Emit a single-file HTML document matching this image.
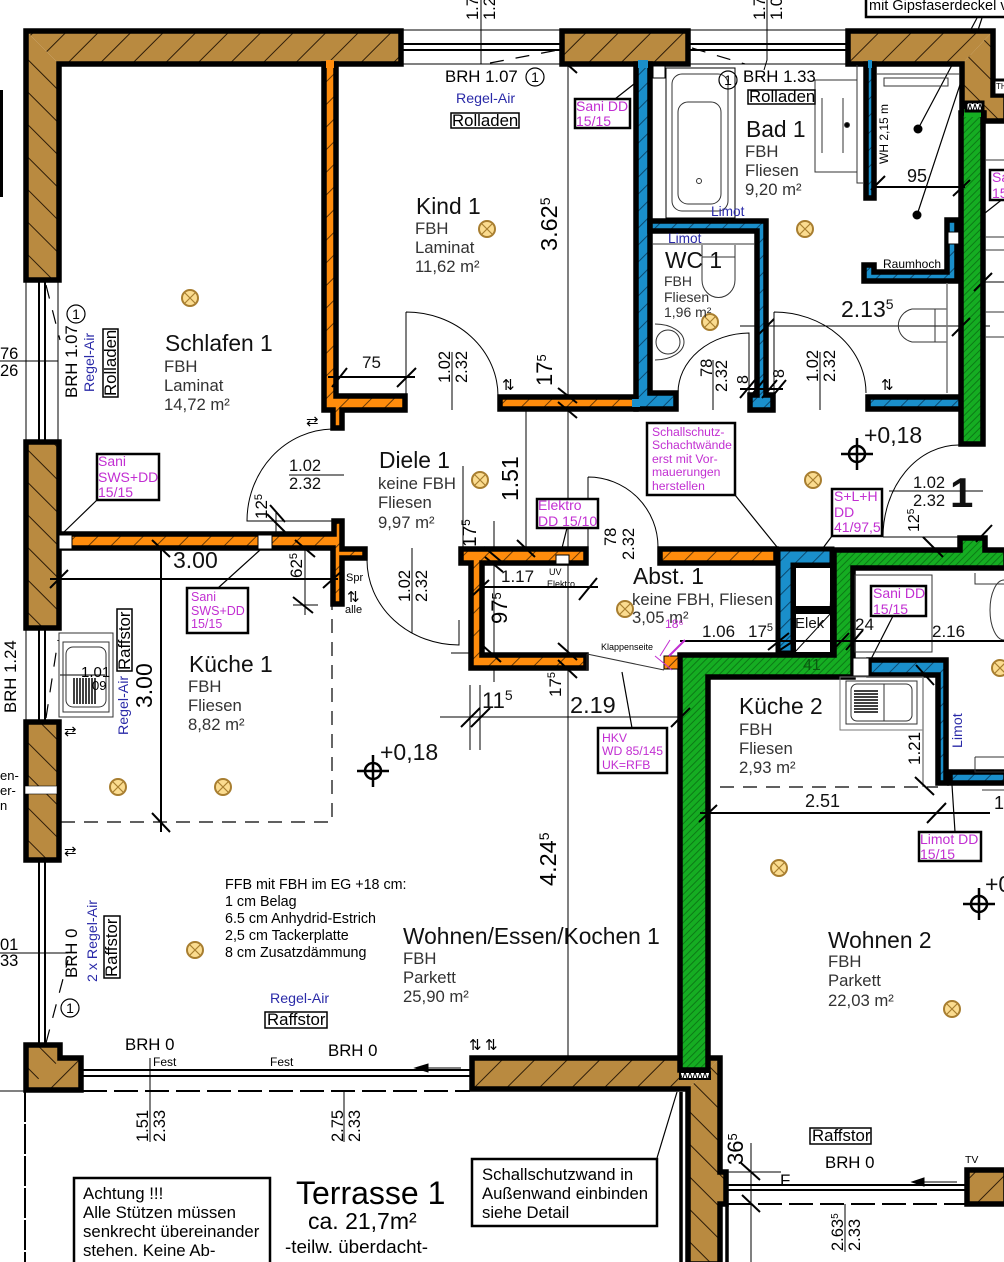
<!DOCTYPE html>
<html><head><meta charset="utf-8"><style>
html,body{margin:0;padding:0;background:#fff}
svg{display:block}
text{font-family:"Liberation Sans",sans-serif;fill:#000}
.n{font-size:22.8px;fill:#111}
.s{font-size:16.7px;fill:#333}
.s2{font-size:14px;fill:#333}
.d{font-size:16.5px;fill:#111}
.b{font-size:23px;fill:#111}
.m{font-size:14px;fill:#c22fd2}
.m2{font-size:12.5px;fill:#c22fd2}
.m3{font-size:12.2px;fill:#c22fd2}
.a{font-size:14.2px;fill:#2a2aa8}
.w{fill:#fff;stroke:#000;stroke-width:1.5}
.x{fill:#fff;stroke:#000;stroke-width:2.5}
.wl{stroke:#000;stroke-width:5.5;stroke-linejoin:miter}
.t{font-size:16.8px}
</style></head><body>
<svg width="1004" height="1262" viewBox="0 0 1004 1262" xmlns="http://www.w3.org/2000/svg">
<defs>
<pattern id="b1" width="23" height="23" patternUnits="userSpaceOnUse" patternTransform="rotate(45)"><rect width="23" height="23" fill="#b98a40"/><rect width="1" height="23" fill="#2d1c08"/></pattern>
<pattern id="b2" width="23" height="23" patternUnits="userSpaceOnUse" patternTransform="rotate(-45)"><rect width="23" height="23" fill="#b98a40"/><rect width="1" height="23" fill="#2d1c08"/></pattern>
<pattern id="o" width="16" height="16" patternUnits="userSpaceOnUse" patternTransform="rotate(45)"><rect width="16" height="16" fill="#ff8c0c"/><rect width="1" height="16" fill="#6a3a05"/></pattern>
<pattern id="bl" width="12" height="12" patternUnits="userSpaceOnUse" patternTransform="rotate(45)"><rect width="12" height="12" fill="#1a8fcb"/><rect width="1" height="12" fill="#0c4a70"/></pattern>
<pattern id="g" width="5" height="5" patternUnits="userSpaceOnUse" patternTransform="rotate(45)"><rect width="5" height="5" fill="#15ad22"/><rect width="1" height="5" fill="#0c7a16"/></pattern>
<pattern id="z" width="5" height="8" patternUnits="userSpaceOnUse"><rect width="5" height="8" fill="#fff"/><path d="M0 0L2.5 8L5 0" fill="none" stroke="#000" stroke-width="1"/></pattern>
<g id="l"><circle r="8" fill="#fbdc90" stroke="#a87e30" stroke-width="2"/><path d="M-5.5 -5.5L5.5 5.5M-5.5 5.5L5.5 -5.5" stroke="#a87e30" stroke-width="1.2"/></g>
<g id="c"><circle r="8" fill="none" stroke="#000" stroke-width="2.5"/><path d="M-16 0H16M0 -16V16" stroke="#000" stroke-width="2.5"/></g>
<g id="o1"><circle r="9" fill="none" stroke="#000" stroke-width="1.2"/><text text-anchor="middle" y="5" font-size="14">1</text></g>
</defs>
<rect width="1004" height="1262" fill="#fff"/>

<!-- thin lines -->
<g fill="none" stroke="#000" stroke-width="1">
<path d="M402 30H560M402 64H560M690 30H846M690 64H846"/>
<path d="M26 282V440M58 282V440M26 630V722"/>
<path d="M568 64V1056M481 0V64M767 0V60L764 70"/>
<path d="M0 361H58M0 953H68"/>
<path d="M406 312V396M406 312A92 84 0 0 1 498 396"/>
<path d="M332 429A87 92 0 0 0 247 521H332"/>
<path d="M367 560A92 85 0 0 0 459 645V620"/>
<path d="M678 393A72 60 0 0 1 749 333V393"/>
<path d="M774 312A92 81 0 0 1 866 393M774 312V393"/>
<path d="M588 477A70 70 0 0 1 658 547M588 477V547"/>
<path d="M883 537A76 92 0 0 1 959 445"/>
<path d="M883 537H960"/>
<path d="M452 352V410M412 548V633M713 360V410M820 352V410M289 475H344M889 491H983"/>
<path d="M526 410V547M150 1058V1142M344 1092V1142M845 1204V1252M751 1143V1262M727 1172H781"/>
<path d="M293 605H318M305 540V615M276 512V542"/>
<path d="M470 685V750M480 685V750M440 717H690M463 466V550M494 521V682"/>
<path d="M0 1091H24M451 653H470"/>
<path d="M740 326H990M958 282H1004M60 675H105"/>
</g>
<path d="M0 90H3V197H0Z" fill="#000"/>
<!-- windows -->
<g fill="none" stroke="#000" stroke-width="2">
<path d="M403 44H560M403 50H560M690 44H846M690 50H846"/>
<path d="M39 282V440M45 282V440M39 630V722M45 630V722M39 862V1043M45 862V1043"/>
<path d="M83 1070H470M83 1076H470M727 1185H965M727 1190H965"/>
<path d="M83 1091H470M727 1204H965" stroke-dasharray="24 7"/>
<path d="M25 1092V1262" stroke-width="2" stroke-dasharray="30 2"/>
</g>
<g fill="none" stroke="#000" stroke-width="1.2" stroke-dasharray="14 12">
<path d="M46 285L60 340M46 718L58 640M46 1043L68 960M490 63L558 50M692 48L745 64"/>
</g>
<!-- leaders -->
<g stroke="#000" stroke-width="1.2" fill="none">
<path d="M97 500L64 532M218 588L260 550M567 528L562 548M735 495L777 547M832 536L820 552M622 672L632 728M893 616L868 665M952 785L955 832M615 99L634 84M985 213L1004 198M657 1158L677 1092M918 129L977 18M917 215L982 18M968 107L1004 90"/>
</g>

<!-- brown walls: fills -->
<path fill="url(#b1)" d="M26 31H401V64H59Z"/><path fill="url(#b2)" d="M26 31L59 64V280H26Z"/>
<path fill="url(#b1)" d="M562 31H688V64H562Z"/>
<path fill="url(#b2)" d="M26 442H59V628H26Z"/>
<path fill="url(#b2)" d="M26 722H59V860H26Z"/>
<path fill="url(#b2)" d="M26 1045H60V1066L26 1090Z"/><path fill="url(#b1)" d="M26 1090L60 1060L60 1058H81V1090Z"/>
<path fill="url(#b1)" d="M472 1058H720L688 1089H472Z"/><path fill="url(#b2)" d="M720 1058V1172H726V1204H720V1262H688V1089Z"/>
<path fill="url(#b1)" d="M967 1170H1006V1204H967Z"/>
<path fill="url(#b1)" d="M848 31H993L962 64H848Z"/><path fill="url(#b2)" d="M993 31V95H1006V121H984V113H962V64Z"/>
<!-- brown walls: outlines -->
<g class="wl" fill="none">
<path d="M26 31H401V64H59V280H26Z"/>
<path d="M562 31H688V64H562Z"/>
<path d="M26 442H59V628H26Z"/>
<path d="M26 722H59V860H26Z"/>
<path d="M26 1045H60V1058H81V1090H26Z"/>
<path d="M472 1058H720V1172H726V1204H720V1264H688V1089H472Z"/>
<path d="M967 1170H1006V1204H967Z"/>
<path d="M848 31H993V95H1006V121H984V113H962V64H848Z"/>
</g>
<rect x="25" y="786" width="32" height="8" fill="#fff" stroke="#000" stroke-width="0.6"/>
<rect x="994" y="80" width="12" height="15" fill="#fff" stroke="#000" stroke-width="3"/><text x="996" y="89" font-size="8">TH</text>
<!-- orange walls -->
<g class="wl" fill="url(#o)">
<path d="M324 64H336V396H405V410H342V428H333V410H324Z"/>
<path d="M500 397H636V409H500Z"/>
<path d="M60 534H334V521H342V549H365V558H342V604H333V548H60Z"/>
<path d="M461 549H586V563H482V655H586V668H471V563H461Z"/>
<path d="M660 549H776V563H660Z"/>
</g>
<rect x="59" y="535" width="13" height="14" fill="#fff" stroke="#000"/>
<rect x="258" y="535" width="14" height="14" fill="#fff" stroke="#000"/>
<rect x="556" y="555" width="13" height="9" fill="#fff" stroke="#000"/>
<!-- blue walls -->
<g class="wl" fill="url(#bl)">
<path d="M636 64H650V393H676V409H636Z"/>
<path d="M650 221H766V395H773V410H750V395H757V231H650Z"/>
<path d="M866 64H874V198H866Z"/>
<path d="M864 265H874V272H947V220H957V281H864Z"/>
<path d="M868 397H962V409H868Z"/>
<path d="M869 660H946V783H938V675H869Z"/>
<path d="M950 772H1006V783H950Z"/>
</g>
<rect x="653" y="66" width="12" height="12" fill="#fff" stroke="#000"/>
<rect x="948" y="232" width="11" height="12" fill="#fff" stroke="#000"/>
<!-- green walls -->
<g class="wl" fill="url(#g)">
<path d="M961 113H983V444H961Z"/>
<path d="M680 655H834V550H960V538H985V550H1006V568H853V677H708V1070H680Z"/>
</g>
<path d="M778 549H832V565H793V653H778Z" fill="url(#bl)" stroke="#000" stroke-width="5"/>
<rect x="794" y="566" width="38" height="42" fill="#fff" stroke="#000" stroke-width="4"/>
<rect x="794" y="612" width="38" height="42" fill="#fff" stroke="#000" stroke-width="4"/>
<path d="M795 652L832 612M832 566L830 612" stroke="#000" fill="none"/>
<rect x="664" y="656" width="14" height="13" fill="url(#o)" stroke="#000" stroke-width="1"/>
<!-- seam removal -->
<rect x="326" y="60" width="8" height="8" fill="#ff8c0c"/>
<rect x="638" y="60" width="10" height="8" fill="#1a8fcb"/>
<rect x="868" y="60" width="4" height="8" fill="#1a8fcb"/>
<rect x="632" y="399" width="8" height="8" fill="#1a8fcb"/>
<rect x="964" y="109" width="17" height="8" fill="#15ad22"/>
<rect x="680" y="1072" width="30" height="7" fill="url(#z)" stroke="#000" stroke-width="2"/>
<rect x="966" y="102" width="17" height="9" fill="url(#z)" stroke="#000" stroke-width="3"/>
<path d="M853 658H869V676H853Z" fill="#fff" stroke="#000"/>
<!-- extra black lines -->
<path d="M681 1092V1262M727 1204V1262" stroke="#000" stroke-width="3.5" fill="none"/>

<!-- fixtures -->
<g fill="none" stroke="#333" stroke-width="1">
<rect x="666" y="68" width="69" height="150" stroke="#000"/>
<rect x="672" y="74" width="56" height="137" rx="10"/>
<rect x="678" y="102" width="43" height="102" rx="10"/>
<circle cx="699" cy="181" r="2.5"/>
<path d="M815 80H857V172H815ZM857 65V183H863M822 98V153M843 98V153"/>
<circle cx="847" cy="125" r="2.5" fill="#000"/>
<rect x="884" y="78" width="64" height="8"/>
<path d="M876 74H960M652 244H755"/>
<path d="M702 245V280A16 17 0 0 0 735 280V245M702 257H735"/>
<path d="M655 324A29 18 0 0 1 655 360"/>
<circle cx="668" cy="342" r="12"/>
<path d="M947 309H912A18 17 0 0 0 912 342H947ZM935 309V342"/>
<path d="M947 283V393" stroke="#777" stroke-width="1.5"/>
<path d="M985 237H1004M985 250H1004M985 312H1004M985 337H1004M985 160H1004"/>
<rect x="59" y="633" width="54" height="84"/>
<rect x="63" y="642" width="46" height="70"/>
<rect x="66" y="647" width="40" height="60" rx="7"/>
<path d="M74 678V704M77 678V704M80 678V704M83 678V704M86 678V704M89 678V704M92 678V704M95 678V704" stroke="#000" stroke-width="1.5"/>
<rect x="840" y="677" width="83" height="53" stroke="#777"/>
<rect x="846" y="681" width="71" height="43"/>
<rect x="851" y="684" width="61" height="37" rx="6"/>
<path d="M854 691H878M854 694H878M854 697H878M854 700H878M854 703H878M854 706H878M854 709H878M854 712H878" stroke="#000" stroke-width="1.5"/>
<path d="M884 684V721"/>
<rect x="855" y="575" width="77" height="77"/>
<path d="M923 677V787" stroke="#888" stroke-width="1.5"/>
<path d="M975 757V772H1004M975 757H1004M982 790H1004"/>
<path d="M1004 580A14 30 0 0 0 1004 640M975 573V584H1004"/>
<path d="M587 654L664 670M587 654V670"/>
</g>
<circle cx="918" cy="129" r="4.5" fill="#000"/><circle cx="917" cy="215" r="4.5" fill="#000"/>
<text x="81" y="677" font-size="15" fill="#333">1.01</text><text x="92" y="690" font-size="13" fill="#333">09</text>

<!-- dimensions -->
<g fill="none" stroke="#000" stroke-width="2">
<path d="M328 377H415M50 579H338M161 548V832M482 587H598M680 641H1004M700 813H990M876 187H965M740 389H783"/>
<path d="M61 822H332V606" stroke-width="1.2" stroke-dasharray="14 9"/>
<path d="M720 787H938" stroke-width="1.2" stroke-dasharray="14 9"/>
<!-- ticks -->
<path d="M332 387L347 368M397 387L416 368M50 588L68 570M323 588L343 570M152 540L170 557M152 813L170 832M293 597L313 613M295 540L315 557M267 514L285 532M270 505L285 522"/>
<path d="M517 540L535 557M484 547L503 563M485 557L503 572M471 597L489 580M579 600L597 578M482 645L501 662M558 643L577 660M558 660L577 678M461 727L480 708M471 727L490 708M671 727L690 708"/>
<path d="M558 388L577 403M558 402L577 418M568 65L577 73"/>
<path d="M756 337L774 319M952 336L970 318M871 190L885 176M953 196L970 180M974 291L992 273"/>
<path d="M740 398L755 380M749 398L764 380M762 398L777 380M771 398L786 380"/>
<path d="M768 650L789 633M780 650L795 640M833 650L849 633M846 650L863 630M916 665L934 685M915 777L934 795M927 823L946 803M699 822L717 805M923 537L943 557M976 542L992 525"/>
<path d="M741 1163L760 1180M742 1195L760 1212"/>
<path d="M669 656L685 640" stroke="#c22fd2"/>
<path d="M660 656L670 640M655 656L672 670" stroke="#c22fd2" stroke-width="1"/>
</g>
<!-- window arrows -->
<g fill="#000" stroke="#000" stroke-width="1">
<path d="M415 1068H461" fill="none"/><path d="M415 1068L428 1064V1072Z"/>
<path d="M912 1182H957" fill="none"/><path d="M912 1182L924 1178V1186Z"/>
</g>

<!-- bulbs -->
<use href="#l" x="190" y="298"/><use href="#l" x="487" y="229"/><use href="#l" x="805" y="229"/><use href="#l" x="710" y="322"/><use href="#l" x="480" y="480"/><use href="#l" x="813" y="480"/><use href="#l" x="625" y="609"/><use href="#l" x="118" y="787"/><use href="#l" x="223" y="787"/><use href="#l" x="195" y="950"/><use href="#l" x="779" y="868"/><use href="#l" x="952" y="1009"/><use href="#l" x="1000" y="668"/>
<use href="#c" x="373" y="771"/><use href="#c" x="857" y="454"/><use href="#c" x="979" y="904"/>
<use href="#o1" x="535" y="77"/><use href="#o1" x="728" y="80"/><use href="#o1" x="76" y="314"/><use href="#o1" x="70" y="1008"/>

<!-- rooms -->
<text class="n" x="165" y="351">Schlafen 1</text><text class="s" x="164" y="372">FBH</text><text class="s" x="164" y="391">Laminat</text><text class="s" x="164" y="410">14,72 m²</text>
<text class="n" x="416" y="214">Kind 1</text><text class="s" x="415" y="234">FBH</text><text class="s" x="415" y="253">Laminat</text><text class="s" x="415" y="272">11,62 m²</text>
<text class="n" x="746" y="137">Bad 1</text><text class="s" x="745" y="157">FBH</text><text class="s" x="745" y="176">Fliesen</text><text class="s" x="745" y="195">9,20 m²</text>
<text class="n" x="665" y="268">WC 1</text><text class="s2" x="664" y="286">FBH</text><text class="s2" x="664" y="302">Fliesen</text><text class="s2" x="664" y="317">1,96 m²</text>
<text class="n" x="379" y="468">Diele 1</text><text class="s" x="378" y="489">keine FBH</text><text class="s" x="378" y="508">Fliesen</text><text class="s" x="378" y="528">9,97 m²</text>
<text class="n" x="189" y="672">Küche 1</text><text class="s" x="188" y="692">FBH</text><text class="s" x="188" y="711">Fliesen</text><text class="s" x="188" y="730">8,82 m²</text>
<text class="n" x="633" y="584">Abst. 1</text><text class="s" x="632" y="605">keine FBH, Fliesen</text><text class="s" x="632" y="623">3,05 m²</text>
<text class="n" x="739" y="714">Küche 2</text><text class="s" x="739" y="735">FBH</text><text class="s" x="739" y="754">Fliesen</text><text class="s" x="739" y="773">2,93 m²</text>
<text class="n" x="403" y="944">Wohnen/Essen/Kochen 1</text><text class="s" x="403" y="964">FBH</text><text class="s" x="403" y="983">Parkett</text><text class="s" x="403" y="1002">25,90 m²</text>
<text class="n" x="828" y="948">Wohnen 2</text><text class="s" x="828" y="967">FBH</text><text class="s" x="828" y="986">Parkett</text><text class="s" x="828" y="1006">22,03 m²</text>

<!-- notes -->
<g font-size="14.3" fill="#111">
<text x="225" y="889">FFB mit FBH im EG +18 cm:</text><text x="225" y="906">1 cm Belag</text><text x="225" y="923">6.5 cm Anhydrid-Estrich</text><text x="225" y="940">2,5 cm Tackerplatte</text><text x="225" y="957">8 cm Zusatzdämmung</text>
</g>
<text x="296" y="1204" font-size="32">Terrasse 1</text><text x="308" y="1229" font-size="23">ca. 21,7m²</text><text x="285" y="1253" font-size="18.8">-teilw. überdacht-</text>
<rect class="x" x="74" y="1178" width="196" height="100"/>
<g font-size="16.8"><text x="83" y="1199">Achtung !!!</text><text x="83" y="1218">Alle Stützen müssen</text><text x="83" y="1237">senkrecht übereinander</text><text x="83" y="1256">stehen. Keine Ab-</text></g>
<rect class="x" x="472" y="1159" width="185" height="67"/>
<g font-size="16.7"><text x="482" y="1180">Schallschutzwand in</text><text x="482" y="1199">Außenwand einbinden</text><text x="482" y="1218">siehe Detail</text></g>
<rect class="x" x="866" y="-5" width="145" height="22"/><text x="869" y="10" font-size="14.5">mit Gipsfaserdeckel v</text>

<!-- magenta labels -->
<rect class="x" x="575" y="99" width="55" height="29"/><text class="m" x="576" y="111">Sani DD</text><text class="m" x="576" y="126">15/15</text>
<rect class="x" x="97" y="454" width="62" height="46"/><text class="m" x="98" y="466">Sani</text><text class="m" x="98" y="482">SWS+DD</text><text class="m" x="98" y="497">15/15</text>
<rect class="x" x="187" y="588" width="61" height="45"/><text class="m2" x="191" y="601">Sani</text><text class="m2" x="191" y="615">SWS+DD</text><text class="m2" x="191" y="628">15/15</text>
<rect class="x" x="537" y="499" width="61" height="29"/><text class="m" x="538" y="510">Elektro</text><text class="m" x="538" y="526">DD 15/10</text>
<rect class="x" x="647" y="423" width="88" height="72"/>
<text class="m3" x="652" y="436">Schallschutz-</text><text class="m3" x="652" y="449">Schachtwände</text><text class="m3" x="652" y="463">erst mit Vor-</text><text class="m3" x="652" y="476">mauerungen</text><text class="m3" x="652" y="490">herstellen</text>
<rect class="x" x="832" y="489" width="50" height="47"/><text class="m" x="834" y="501">S+L+H</text><text class="m" x="834" y="517">DD</text><text class="m" x="834" y="532">41/97,5</text>
<rect class="x" x="598" y="728" width="69" height="45"/><text class="m3" x="602" y="742">HKV</text><text class="m3" x="602" y="755">WD 85/145</text><text class="m3" x="602" y="769">UK=RFB</text>
<rect class="x" x="871" y="586" width="55" height="30"/><text class="m" x="873" y="598">Sani DD</text><text class="m" x="873" y="614">15/15</text>
<rect class="x" x="919" y="832" width="62" height="29"/><text class="m" x="920" y="844">Limot DD</text><text class="m" x="920" y="859">15/15</text>
<rect class="x" x="990" y="170" width="20" height="30"/><text class="m" x="992" y="182">Sa</text><text class="m" x="992" y="198">15</text>
<text class="m3" x="665" y="628">18⁶</text>

<!-- labelled boxes -->
<rect class="w" x="451" y="113" width="68" height="15"/><text class="t" x="452" y="126">Rolladen</text>
<rect class="w" x="748" y="90" width="67" height="14"/><text class="t" x="749" y="102">Rolladen</text>
<rect class="w" x="265" y="1012" width="62" height="16"/><text class="t" x="267" y="1025">Raffstor</text>
<rect class="w" x="810" y="1128" width="61" height="16"/><text class="t" x="812" y="1141">Raffstor</text>
<rect class="w" x="103" y="329" width="15" height="68"/><text class="t" transform="rotate(-90 116 396)" x="116" y="396">Rolladen</text>
<rect class="w" x="117" y="609" width="15" height="62"/><text class="t" transform="rotate(-90 130 670)" x="130" y="670">Raffstor</text>
<rect class="w" x="104" y="916" width="16" height="62"/><text class="t" transform="rotate(-90 117 977)" x="117" y="977">Raffstor</text>

<!-- blue text -->
<text class="a" x="456" y="103">Regel-Air</text>
<text class="a" x="270" y="1003">Regel-Air</text>
<text class="a" transform="rotate(-90 94 392)" x="94" y="392">Regel-Air</text>
<text class="a" transform="rotate(-90 128 735)" x="128" y="735">Regel-Air</text>
<text class="a" transform="rotate(-90 97 982)" x="97" y="982">2 x Regel-Air</text>
<text class="a" x="711" y="216" style="font-size:13.7px">Limot</text>
<text class="a" x="668" y="243" style="font-size:13.7px">Limot</text>
<text class="a" transform="rotate(-90 962 748)" x="962" y="748">Limot</text>

<!-- BRH -->
<g font-size="16.8" fill="#111">
<text x="445" y="82">BRH 1.07</text><text x="743" y="82">BRH 1.33</text>
<text x="125" y="1050">BRH 0</text><text x="328" y="1056">BRH 0</text><text x="825" y="1168">BRH 0</text>
<text transform="rotate(-90 77 398)" x="77" y="398">BRH 1.07</text>
<text transform="rotate(-90 16 713)" x="16" y="713">BRH 1.24</text>
<text transform="rotate(-90 77 978)" x="77" y="978">BRH 0</text>
</g>
<text x="153" y="1066" font-size="12">Fest</text><text x="270" y="1066" font-size="12">Fest</text><text x="965" y="1163" font-size="10.5">TV</text><text x="780" y="1186" font-size="17">F</text>
<text x="346" y="581" font-size="11">Spr</text><text x="345" y="613" font-size="11">alle</text><text x="347" y="602" font-size="15">⇅</text>
<text x="881" y="390" font-size="15">⇅</text><text x="502" y="390" font-size="15">⇅</text><text x="469" y="1050" font-size="15">⇅</text><text x="485" y="1050" font-size="15">⇅</text>
<text x="306" y="426" font-size="15">⇄</text><text x="64" y="736" font-size="15">⇄</text><text x="64" y="856" font-size="15">⇄</text>
<text x="883" y="268" font-size="12">Raumhoch</text>
<text transform="rotate(-90 888 164)" x="888" y="164" font-size="12">WH 2,15 m</text>
<text x="549" y="575" font-size="9">UV</text><text x="547" y="587" font-size="9">Elektro</text><text x="601" y="650" font-size="9">Klappenseite</text>
<text x="0" y="780" font-size="13">en-</text><text x="0" y="795" font-size="13">er-</text><text x="0" y="810" font-size="13">n</text>

<!-- dimension text -->
<text class="b" x="362" y="368" style="font-size:17px">75</text>
<text class="b" x="173" y="568">3.00</text>
<text class="b" x="570" y="713" style="font-size:23.5px">2.19</text>
<text class="b" x="841" y="317" style="font-size:23px">2.13<tspan font-size="14" dy="-8">5</tspan></text>
<text class="b" x="907" y="182" style="font-size:18px">95</text>
<text class="b" x="702" y="637" style="font-size:17px">1.06</text>
<text class="b" x="748" y="637" style="font-size:17px">17<tspan font-size="11" dy="-6">5</tspan></text>
<text class="b" x="501" y="582" style="font-size:17px">1.17</text>
<text class="b" x="855" y="630" style="font-size:17px">24</text>
<text class="b" x="932" y="637" style="font-size:17px">2.16</text>
<text class="b" x="803" y="670" style="font-size:16px;fill:#0a5a10">41</text>
<text class="b" x="795" y="628" style="font-size:15px">Elek</text>
<text class="b" x="805" y="807" style="font-size:18px">2.51</text>
<text class="b" x="994" y="809" style="font-size:18px">1</text>
<text class="b" x="482" y="708" style="font-size:22px">11<tspan font-size="14" dy="-8">5</tspan></text>
<text class="b" x="950" y="507" style="font-size:42px;font-weight:bold">1</text>
<text class="b" x="380" y="760">+0,18</text>
<text class="b" x="864" y="443">+0,18</text>
<text class="b" x="985" y="892">+0,18</text>
<text x="289" y="471" class="d">1.02</text><text x="289" y="489" class="d">2.32</text>
<text x="913" y="488" class="d">1.02</text><text x="913" y="506" class="d">2.32</text>
<g fill="#111" font-size="16.5">
<text transform="rotate(-90 450 383)" x="450" y="383">1.02</text><text transform="rotate(-90 467 383)" x="467" y="383">2.32</text>
<text transform="rotate(-90 410 602)" x="410" y="602">1.02</text><text transform="rotate(-90 427 602)" x="427" y="602">2.32</text>
<text transform="rotate(-90 712 377)" x="712" y="377">78</text><text transform="rotate(-90 727 392)" x="727" y="392">2.32</text>
<text transform="rotate(-90 818 382)" x="818" y="382">1.02</text><text transform="rotate(-90 835 382)" x="835" y="382">2.32</text>
<text transform="rotate(-90 616 546)" x="616" y="546">78</text><text transform="rotate(-90 634 560)" x="634" y="560">2.32</text>
<text transform="rotate(-90 148 1142)" x="148" y="1142">1.51</text><text transform="rotate(-90 165 1142)" x="165" y="1142">2.33</text>
<text transform="rotate(-90 343 1142)" x="343" y="1142">2.75</text><text transform="rotate(-90 360 1142)" x="360" y="1142">2.33</text>
<text transform="rotate(-90 843 1251)" x="843" y="1251">2.63<tspan font-size="10" dy="-5">5</tspan></text><text transform="rotate(-90 860 1251)" x="860" y="1251">2.33</text>
<text transform="rotate(-90 478 20)" x="478" y="20">1.7</text><text transform="rotate(-90 495 20)" x="495" y="20">1.2</text>
<text transform="rotate(-90 765 20)" x="765" y="20">1.7</text><text transform="rotate(-90 782 20)" x="782" y="20">1.0</text>
<text x="0" y="359">76</text><text x="0" y="376">26</text><text x="0" y="950">01</text><text x="0" y="966">33</text>
<text transform="rotate(-90 748 384)" x="748" y="384" font-size="16">8</text><text transform="rotate(-90 784 378)" x="784" y="378" font-size="16">8</text>
<text transform="rotate(-90 920 765)" x="920" y="765" font-size="17">1.21</text>
</g>
<g fill="#111" font-size="22">
<text transform="rotate(-90 557 251)" x="557" y="251" font-size="23.5">3.62<tspan font-size="14" dy="-7">5</tspan></text>
<text transform="rotate(-90 556 886)" x="556" y="886" font-size="23.5">4.24<tspan font-size="14" dy="-7">5</tspan></text>
<text transform="rotate(-90 518 501)" x="518" y="501" font-size="23">1.51</text>
<text transform="rotate(-90 152 708)" x="152" y="708" font-size="23">3.00</text>
<text transform="rotate(-90 552 386)" x="552" y="386">17<tspan font-size="13" dy="-6">5</tspan></text>
<text transform="rotate(-90 476 547)" x="476" y="547" font-size="19">17<tspan font-size="12" dy="-6">5</tspan></text>
<text transform="rotate(-90 507 624)" x="507" y="624">97<tspan font-size="13" dy="-6">5</tspan></text>
<text transform="rotate(-90 561 697)" x="561" y="697" font-size="17">17<tspan font-size="11" dy="-6">5</tspan></text>
<text transform="rotate(-90 267 519)" x="267" y="519" font-size="17">12<tspan font-size="11" dy="-5">5</tspan></text>
<text transform="rotate(-90 302 578)" x="302" y="578" font-size="17">62<tspan font-size="11" dy="-5">5</tspan></text>
<text transform="rotate(-90 919 532)" x="919" y="532" font-size="16">12<tspan font-size="10" dy="-5">5</tspan></text>
<text transform="rotate(-90 743 1165)" x="743" y="1165">36<tspan font-size="13" dy="-6">5</tspan></text>
</g>
</svg>
</body></html>
